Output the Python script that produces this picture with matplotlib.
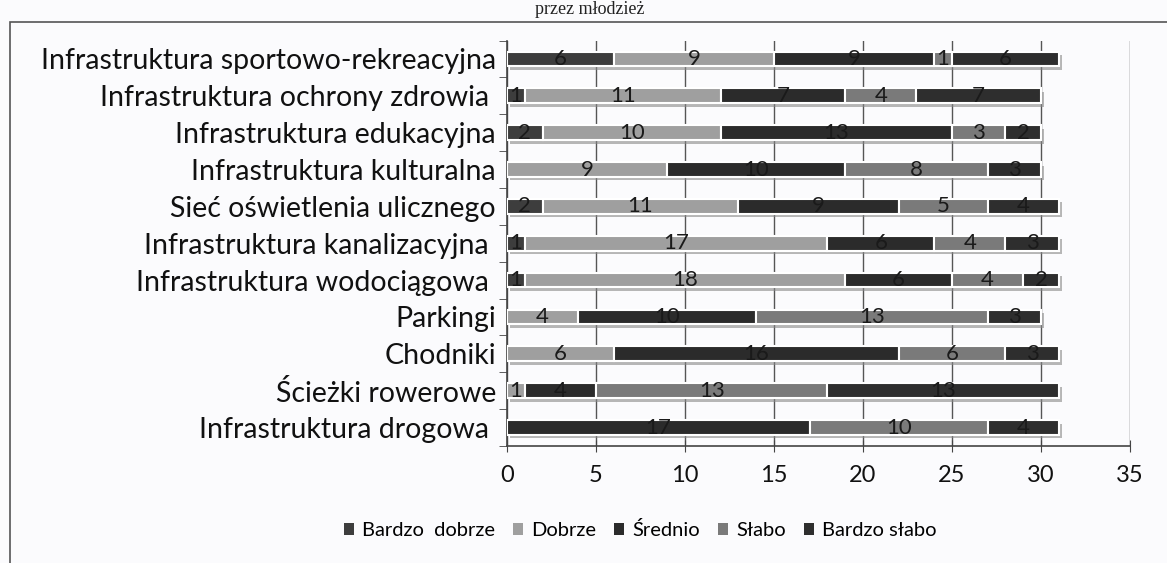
import matplotlib
matplotlib.use("Agg")
import matplotlib.pyplot as plt
import matplotlib.patheffects as pe
from matplotlib.patches import Rectangle
import numpy as np

categories = [
    "Infrastruktura sportowo-rekreacyjna",
    "Infrastruktura ochrony zdrowia ",
    "Infrastruktura edukacyjna",
    "Infrastruktura kulturalna",
    "Sieć oświetlenia ulicznego",
    "Infrastruktura kanalizacyjna ",
    "Infrastruktura wodociągowa ",
    "Parkingi",
    "Chodniki",
    "Ścieżki rowerowe",
    "Infrastruktura drogowa ",
]
series_names = ["Bardzo  dobrze", "Dobrze", "Średnio", "Słabo", "Bardzo słabo"]
bardzo_dobrze = [6, 1, 2, 0, 2, 1, 1, 0, 0, 0, 0]
dobrze = [9, 11, 10, 9, 11, 17, 18, 4, 6, 1, 0]
srednio = [9, 7, 13, 10, 9, 6, 6, 10, 16, 4, 17]
slabo = [1, 4, 3, 8, 5, 4, 4, 13, 6, 13, 10]
bardzo_slabo = [6, 7, 2, 3, 4, 3, 2, 3, 3, 13, 4]
x_ticks = [0, 5, 10, 15, 20, 25, 30, 35]

series = [bardzo_dobrze, dobrze, srednio, slabo, bardzo_slabo]
colors = ["#3d3d3d", "#9f9f9f", "#2b2b2b", "#7a7a7a", "#2e2e2e"]

plt.rcParams['font.family'] = ['Lato', 'DejaVu Sans']

fig = plt.figure(figsize=(11.67, 5.63), dpi=100)
fig.patch.set_facecolor("#fbfbfd")

# outer chart frame
fig.patches.append(Rectangle((10/1167, -0.05), 1.2, 1 - 22/563 + 0.05,
                             transform=fig.transFigure, fill=False,
                             edgecolor="#555555", linewidth=1.2))
fig.text(590/1167, 1 - 1/563, "przez młodzież", ha="center", va="top",
         fontsize=13, family=["Liberation Serif"], color="#222222")

ax = fig.add_axes([507/1167, 1 - 446/563, (1130 - 507)/1167, (446 - 40.5)/563])
ax.set_facecolor("#fbfbfd")

y = np.arange(len(categories))
left = np.zeros(len(categories))
shadow = [pe.SimplePatchShadow(offset=(2.5, -2.5), shadow_rgbFace="#888888", alpha=0.6),
          pe.Normal()]
for name, vals, col in zip(series_names, series, colors):
    vals = np.array(vals, dtype=float)
    bars = ax.barh(y, vals, left=left, height=0.4, color=col, edgecolor="white",
                   linewidth=1.5, label=name, zorder=3)
    for b in bars:
        b.set_path_effects(shadow)
    for yi, l, v in zip(y, left, vals):
        if v > 0:
            ax.text(l + v / 2, yi, f"{int(v)}", ha="center", va="center",
                    fontsize=16, color="#1a1a1a", zorder=5)
    left += vals

ax.set_xlim(0, 35)
ax.set_ylim(len(categories) - 0.5, -0.5)
ax.set_xticks(x_ticks)
ax.set_xticklabels([str(t) for t in x_ticks], fontsize=17, color="#111111")
ax.set_yticks(y)
ax.set_yticklabels(categories, fontsize=20.5, color="#111111")
ax.set_yticks(np.arange(-0.5, len(categories), 1.0), minor=True)
ax.tick_params(axis="y", which="major", length=0, pad=8)
ax.tick_params(axis="y", which="minor", length=6, direction="out", color="#444444")
ax.tick_params(axis="x", which="major", length=8, direction="inout", color="#444444", pad=10)

ax.grid(axis="x", color="#555555", linewidth=1.0, zorder=0)
ax.set_axisbelow(True)
for s in ["top", "right"]:
    ax.spines[s].set_visible(False)
for s in ["left", "bottom"]:
    ax.spines[s].set_color("#444444")
    ax.spines[s].set_linewidth(1.2)

handles, labels = ax.get_legend_handles_labels()
leg = fig.legend(handles, labels, loc="center", bbox_to_anchor=(640/1167, 1 - 530/563),
                 ncol=5, frameon=False, fontsize=14.5, handlelength=0.5, handleheight=0.5,
                 handletextpad=0.4, columnspacing=0.9)
for h in leg.legend_handles:
    h.set_path_effects([])
    h.set_edgecolor("none")

fig.savefig("out.png", dpi=100, facecolor=fig.get_facecolor())
